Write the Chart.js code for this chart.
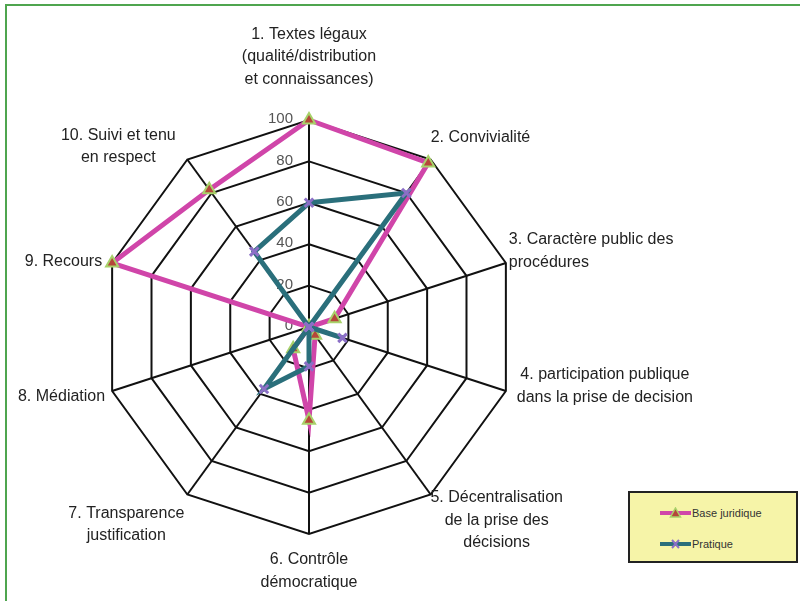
<!DOCTYPE html>
<html><head><meta charset="utf-8">
<script src="https://cdn.jsdelivr.net/npm/chart.js@4"></script>
<style>
html,body{margin:0;padding:0;background:#fff;}
#wrap{position:relative;width:800px;height:601px;overflow:hidden;background:#fff;}
#frame{position:absolute;left:5px;top:4px;width:830px;height:640px;border-left:2px solid #4fa54f;border-top:2px solid #4fa54f;}
#c{position:absolute;left:0;top:0;}
#legend{position:absolute;left:628px;top:491px;width:166px;height:68px;background:#f6f4a8;border:2px solid #222;font-family:"Liberation Sans",Arial,sans-serif;font-size:11px;color:#333;}
.item{position:absolute;left:30px;height:14px;display:flex;align-items:center;}
.item svg{display:block;margin-right:1px;}
</style></head>
<body>
<div id="wrap">
<div id="frame"></div>
<canvas id="c" width="800" height="601"></canvas>
<div id="legend">
 <div class="item" style="top:13px"><svg width="31" height="12"><line x1="0" y1="6" x2="31" y2="6" stroke="#d045a9" stroke-width="4"/><polygon points="15.5,1 20.5,10 10.5,10" fill="#b5473a" stroke="#a8d26a" stroke-width="1.5"/></svg><span id="lg0"></span></div>
 <div class="item" style="top:44px"><svg width="31" height="12"><line x1="0" y1="6" x2="31" y2="6" stroke="#2a6f7b" stroke-width="4"/><path d="M12,2 L19,10 M19,2 L12,10" stroke="#8b6fc6" stroke-width="2"/></svg><span id="lg1"></span></div>
</div>
</div>
<script>
const categories = [
  ["1. Textes légaux", "(qualité/distribution", "et connaissances)"],
  "2. Convivialité",
  ["3. Caractère public des", "procédures"],
  ["4. participation publique", "dans la prise de decision"],
  ["5. Décentralisation", "de la prise des", "décisions"],
  ["6. Contrôle", "démocratique"],
  ["7. Transparence", "justification"],
  "8. Médiation",
  "9. Recours",
  ["10. Suivi et tenu", "en respect"]
];
const seriesNames = ["Base juridique", "Pratique"];
const baseJuridique = [100, 98, 13, 0, 5, 45, 13, 0, 100, 82];
const pratique = [60, 80, 0, 17, 0, 19, 37, 0, 0, 45];
const tickValues = [0, 20, 40, 60, 80, 100];

document.getElementById('lg0').textContent = seriesNames[0];
document.getElementById('lg1').textContent = seriesNames[1];

const CENTER_X = 309, CENTER_Y = 327, RADIUS = 207;
// label placement relative to each axis end: offset, text alignment
const labelPlace = [
  { dx: 0,   dy: -63, align: 'center' },
  { dx: 0,   dy: -22, align: 'left' },
  { dx: 3,   dy: -12, align: 'left' },
  { dx: 99,  dy: -5,  align: 'center' },
  { dx: 66,  dy: 26,  align: 'center' },
  { dx: 0,   dy: 37,  align: 'center' },
  { dx: -61, dy: 30,  align: 'center' },
  { dx: -7,  dy: 6,   align: 'right' },
  { dx: -10, dy: -1,  align: 'right' },
  { dx: -69, dy: -13, align: 'center' }
];
const LINE_H = 22.5;

const tickLabelPlugin = {
  id: 'tickLabels',
  beforeDatasetsDraw(chart) {
    const s = chart.scales.r, ctx = chart.ctx;
    ctx.save();
    ctx.font = '15px "Liberation Sans", Arial, sans-serif';
    ctx.fillStyle = '#555';
    ctx.textAlign = 'right';
    ctx.textBaseline = 'middle';
    s.ticks.forEach(t => {
      const d = s.getDistanceFromCenterForValue(t.value);
      ctx.fillText(String(t.value), s.xCenter - 16, s.yCenter - d - 1);
    });
    ctx.restore();
  }
};

const axisLabelPlugin = {
  id: 'axisLabels',
  afterDraw(chart) {
    const s = chart.scales.r, ctx = chart.ctx;
    ctx.save();
    ctx.font = '16px "Liberation Sans", Arial, sans-serif';
    ctx.fillStyle = '#222';
    ctx.textBaseline = 'middle';
    chart.data.labels.forEach((lab, i) => {
      const lines = Array.isArray(lab) ? lab : [lab];
      const p = s.getPointPosition(i, s.drawingArea);
      const pl = labelPlace[i];
      ctx.textAlign = pl.align;
      const cy = p.y + pl.dy;
      const y0 = cy - (lines.length - 1) * LINE_H / 2;
      lines.forEach((ln, k) => ctx.fillText(ln, p.x + pl.dx, y0 + k * LINE_H));
    });
    ctx.restore();
  }
};

new Chart(document.getElementById('c'), {
  type: 'radar',
  data: {
    labels: categories,
    datasets: [
      {
        label: seriesNames[0], data: baseJuridique, order: 2,
        borderColor: '#d045a9', borderWidth: 5, fill: false, backgroundColor: 'transparent',
        pointStyle: 'triangle', pointRadius: 7, pointBackgroundColor: '#b5473a',
        pointBorderColor: '#a8d26a', pointBorderWidth: 2
      },
      {
        label: seriesNames[1], data: pratique, order: 1,
        borderColor: '#2a6f7b', borderWidth: 5, fill: false, backgroundColor: 'transparent',
        pointStyle: 'crossRot', pointRadius: 6, pointBorderColor: '#8b6fc6', pointBorderWidth: 3
      }
    ]
  },
  options: {
    responsive: false, animation: false, devicePixelRatio: 1,
    layout: { padding: 0 },
    plugins: { legend: { display: false }, tooltip: { enabled: false } },
    elements: { line: { tension: 0 } },
    scales: {
      r: {
        min: 0, max: 100,
        beforeFit(s) { s.xCenter = CENTER_X; s.yCenter = CENTER_Y; s.drawingArea = RADIUS; },
        afterBuildTicks(s) { s.ticks = tickValues.map(v => ({ value: v })); },
        ticks: { display: false, stepSize: 20 },
        grid: { color: '#111', lineWidth: 2 },
        angleLines: { color: '#111', lineWidth: 2 },
        pointLabels: { display: false }
      }
    }
  },
  plugins: [tickLabelPlugin, axisLabelPlugin]
});
</script>
</body></html>
